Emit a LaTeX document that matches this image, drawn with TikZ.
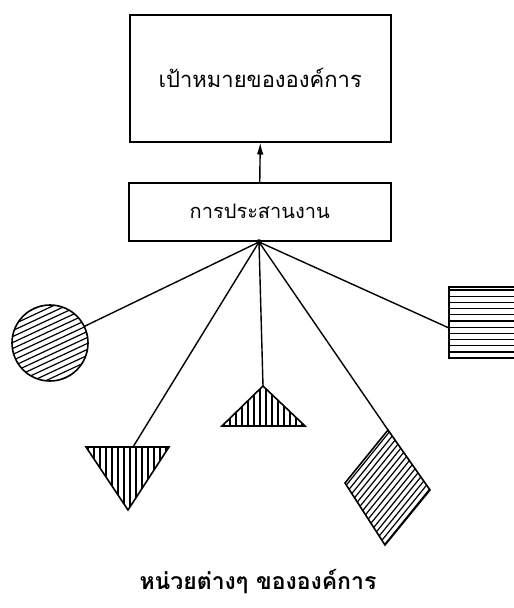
\documentclass[tikz,border=0pt]{standalone}
\usepackage{fontspec}
\newfontfamily\thaifont[Script=Thai]{Loma}
\usetikzlibrary{arrows.meta}
\begin{document}
\begin{tikzpicture}[x=1pt,y=-1pt,
  box/.style={draw,line width=1.5pt,inner sep=0pt,anchor=north west},
  conn/.style={line width=1.4pt},
  shp/.style={draw,line width=1.6pt},
  hatch/.style={line width=1.2pt},
  lbl/.style={font=\thaifont\fontsize{23}{26}\selectfont}]
\useasboundingbox (0,0) rectangle (514,608);
% boxes
\node[box,minimum width=261pt,minimum height=127pt] (goal) at (129,14)
  {\thaifont\fontsize{22}{26}\selectfont เป้าหมายขององค์การ};
\node[box,minimum width=262pt,minimum height=58pt] (coord) at (128,182)
  {\thaifont\fontsize{20}{24}\selectfont การประสานงาน};
\draw[conn,-{Latex[length=12pt,width=6.5pt]}] (coord.north) -- (goal.south);
\coordinate (hub) at (259,242);
\fill (hub) circle (2.8pt);
% circle
\node[circle,minimum size=76pt,inner sep=0pt] (circ) at (50,343) {};
\begin{scope}
  \clip (50,343) circle (38);
  \begin{scope}[shift={(50,343)},rotate=25]
    \foreach \k in {-8,...,8} \draw[hatch] (-60,\k*5.4) -- (60,\k*5.4);
  \end{scope}
\end{scope}
\draw[shp] (circ.center) circle (38);
% right square
\coordinate (sqa) at (449,328);
\begin{scope}
  \clip (449,287) rectangle (516,358);
  \foreach \k in {0,...,11} \draw[hatch] (449,290+\k*6.2) -- (516,290+\k*6.2);
\end{scope}
\draw[shp] (516,287) -- (449,287) -- (449,358) -- (516,358);
% down triangle
\coordinate (dt1) at (86,447);
\coordinate (dt2) at (169,447);
\coordinate (dt3) at (128,510);
\coordinate (dta) at (133,447);
\begin{scope}
  \clip (dt1) -- (dt2) -- (dt3) -- cycle;
  \foreach \k in {0,...,14} \draw[hatch] (88+\k*6,440) -- (88+\k*6,515);
\end{scope}
\draw[shp,line join=miter] (dt1) -- (dt2) -- (dt3) -- cycle;
% up triangle
\coordinate (ut1) at (222,426);
\coordinate (ut2) at (305,426);
\coordinate (uta) at (263,386);
\begin{scope}
  \clip (ut1) -- (ut2) -- (uta) -- cycle;
  \foreach \k in {0,...,14} \draw[hatch] (224+\k*6,380) -- (224+\k*6,430);
\end{scope}
\draw[shp,line join=miter] (ut1) -- (ut2) -- (uta) -- cycle;
% diamond
\coordinate (dma) at (388,430);
\coordinate (dm2) at (430,490);
\coordinate (dm3) at (385,545);
\coordinate (dm4) at (345,483);
\begin{scope}
  \clip (dma) -- (dm2) -- (dm3) -- (dm4) -- cycle;
  \begin{scope}[shift={(388,487)},rotate=51]
    \foreach \k in {-9,...,9} \draw[hatch] (-90,\k*4.8) -- (90,\k*4.8);
  \end{scope}
\end{scope}
\draw[shp,line join=miter] (dma) -- (dm2) -- (dm3) -- (dm4) -- cycle;
% connectors
\draw[conn] (hub) -- (circ);
\draw[conn] (hub) -- (sqa);
\draw[conn] (hub) -- (dta);
\draw[conn] (hub) -- (uta);
\draw[conn] (hub) -- (dma);
% caption
\node[lbl] (cap) at (258,582) {\bfseries หน่วยต่างๆ ขององค์การ};
\end{tikzpicture}
\end{document}
